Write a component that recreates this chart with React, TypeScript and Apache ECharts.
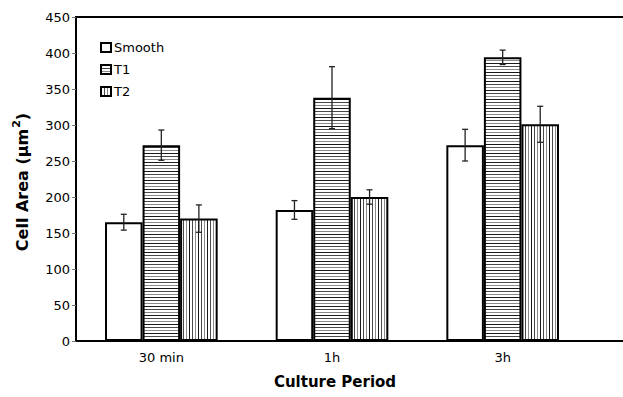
import React, { useEffect, useRef } from 'react';
import * as echarts from 'echarts';

const categories = ['30 min', '1h', '3h'];
const seriesNames = ['Smooth', 'T1', 'T2'];
const smoothValues = [165, 182, 272];
const smoothErrors = [11, 13, 22];
const t1Values = [272, 338, 394];
const t1Errors = [21, 43, 10];
const t2Values = [170, 200, 301];
const t2Errors = [19, 10, 25];
const yMin = 0;
const yMax = 450;
const yInterval = 50;
const yTitle = '{a|Cell Area (μm}{s|2}{a|)}';
const xTitle = 'Culture Period';

function makePattern(dir: 'h' | 'v'): HTMLCanvasElement {
  const period = 9;
  const c = document.createElement('canvas');
  c.width = dir === 'h' ? 4 : period;
  c.height = dir === 'h' ? period : 4;
  const ctx = c.getContext('2d')!;
  ctx.fillStyle = '#ffffff';
  ctx.fillRect(0, 0, c.width, c.height);
  const shades = ['#1a1a1a', '#4a4a4a', '#8a8a8a'];
  shades.forEach((s, i) => {
    ctx.fillStyle = s;
    if (dir === 'h') ctx.fillRect(0, i * 3, c.width, 1);
    else ctx.fillRect(i * 3, 0, 1, c.height);
  });
  return c;
}

export default function App() {
  const ref = useRef<HTMLDivElement>(null);
  useEffect(() => {
    if (!ref.current) return;
    const chart = echarts.init(ref.current, undefined, { renderer: 'svg' });
    const hPat = makePattern('h');
    const vPat = makePattern('v');
    const groups = [
      { values: smoothValues, errors: smoothErrors },
      { values: t1Values, errors: t1Errors },
      { values: t2Values, errors: t2Errors },
    ];
    const errData: number[][] = [];
    groups.forEach((g, gi) => {
      g.values.forEach((v, ci) => errData.push([ci, v, g.errors[ci], gi]));
    });
    const fills: any[] = [
      '#ffffff',
      { image: hPat, repeat: 'repeat' },
      { image: vPat, repeat: 'repeat' },
    ];
    const barWidthRatio = 0.22;
    const font = 'DejaVu Sans';
    const option: any = {
      animation: false,
      backgroundColor: '#ffffff',
      grid: { left: 76, right: 35, top: 17, bottom: 56, containLabel: false },
      legend: {
        data: seriesNames,
        orient: 'vertical',
        left: 100,
        top: 41,
        padding: 0,
        itemWidth: 10,
        itemHeight: 9,
        itemGap: 9,
        icon: 'rect',
        itemStyle: { borderColor: '#000', borderWidth: 2 },
        textStyle: { fontFamily: font, fontSize: 13, color: '#000', padding: [0, 0, 0, -2] },
      },
      xAxis: {
        type: 'category',
        data: categories,
        axisLine: { lineStyle: { color: '#000', width: 2 } },
        axisTick: { inside: true, length: 4, lineStyle: { color: '#777' } },
        axisLabel: { fontFamily: font, fontSize: 13, color: '#000', margin: 10 },
      },
      yAxis: {
        type: 'value',
        min: yMin,
        max: yMax,
        interval: yInterval,
        splitLine: { show: false },
        axisLine: { show: true, lineStyle: { color: '#000', width: 2 } },
        axisTick: { show: true, length: 4, lineStyle: { color: '#777' } },
        axisLabel: { fontFamily: font, fontSize: 13, color: '#000', margin: 6 },
      },
      series: [
        ...groups.map((g, gi) => ({
          type: 'bar',
          name: seriesNames[gi],
          data: g.values,
          barWidth: barWidthRatio * 100 + '%',
          barGap: '0%',
          itemStyle: { color: fills[gi], borderColor: '#000', borderWidth: 2 },
          z: 2,
        })),
        {
          type: 'custom',
          name: 'err',
          data: errData,
          encode: { x: 0, y: 1 },
          z: 10,
          renderItem: (params: any, api: any) => {
            const ci = api.value(0);
            const v = api.value(1);
            const e = api.value(2);
            const g = api.value(3);
            const base = api.coord([ci, v]);
            const band = api.size([1, 0])[0];
            const x = base[0] + (g - 1) * band * barWidthRatio;
            const yTop = api.coord([ci, v + e])[1];
            const yBot = api.coord([ci, v - e])[1];
            const cap = 3;
            const style = { stroke: '#222', lineWidth: 1.3 };
            return {
              type: 'group',
              children: [
                { type: 'line', shape: { x1: x, y1: yTop, x2: x, y2: yBot }, style },
                { type: 'line', shape: { x1: x - cap, y1: yTop, x2: x + cap, y2: yTop }, style },
                { type: 'line', shape: { x1: x - cap, y1: yBot, x2: x + cap, y2: yBot }, style },
              ],
            };
          },
        },
      ],
      graphic: [
        { type: 'line', shape: { x1: 75, y1: 17, x2: 623, y2: 17 }, style: { stroke: '#000', lineWidth: 2 } },
        { type: 'line', shape: { x1: 586, y1: 341, x2: 623, y2: 341 }, style: { stroke: '#000', lineWidth: 2 } },
        {
          type: 'text',
          x: 335,
          y: 382,
          style: { text: xTitle, fontFamily: font, fontSize: 15, fontWeight: 'bold', fill: '#000', align: 'center', verticalAlign: 'middle' },
        },
        {
          type: 'text',
          x: 22,
          y: 182,
          rotation: Math.PI / 2,
          style: {
            text: yTitle,
            align: 'center',
            verticalAlign: 'middle',
            fill: '#000',
            rich: {
              a: { fontFamily: font, fontSize: 16, fontWeight: 'bold', fill: '#000', lineHeight: 22 },
              s: { fontFamily: font, fontSize: 11, fontWeight: 'bold', fill: '#000', lineHeight: 11, padding: [0, 0, 11, 1] },
            },
          },
        },
      ],
    };
    chart.setOption(option);
    return () => chart.dispose();
  }, []);
  return <div ref={ref} style={{ position: 'absolute', left: 0, top: 0, width: 623, height: 397 }} />;
}
